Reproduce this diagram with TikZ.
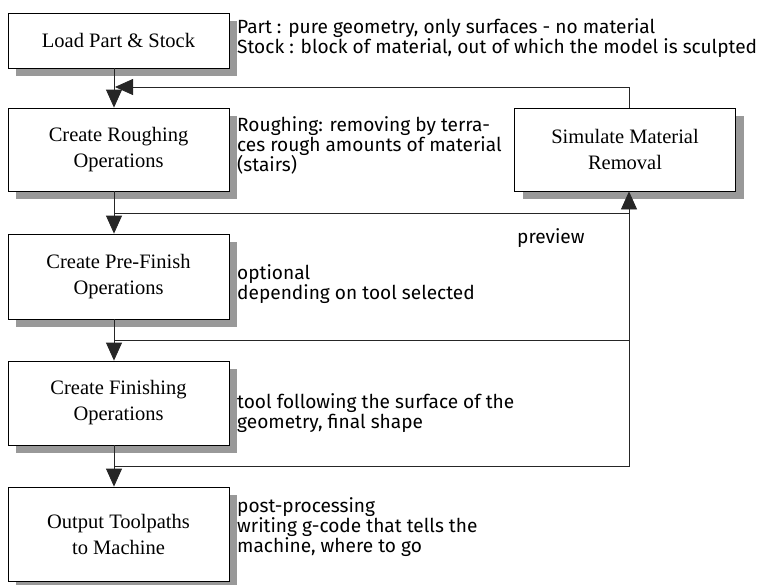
\documentclass[tikz,border=0pt]{standalone}
\usepackage{fontspec}
\setmainfont{Liberation Serif}
\newfontfamily\notefont{Fira Sans}
\usetikzlibrary{arrows.meta,shadows}

\begin{document}
\begin{tikzpicture}[x=1pt,y=-1pt,
    stepbox/.style={draw,fill=white,line width=0.8pt,minimum width=221pt,align=center,
      font=\fontsize{20.5}{26}\selectfont,
      drop shadow={shadow xshift=8pt,shadow yshift=-8pt,fill=black!40,opacity=1}},
    note/.style={anchor=north west,align=left,inner sep=0pt,font=\notefont\fontsize{19.1}{20.3}\selectfont},
    line/.style={draw=black!85,line width=0.8pt},
    arr/.style={-{Triangle[length=18pt,width=16pt]}}]
    \useasboundingbox (0,0) rectangle (762,584);

    % process steps
    \node[stepbox,minimum height=55pt] (load) at (118.5,40.5) {Load Part \& Stock};
    \node[stepbox,minimum height=83pt] (rough) at (118.5,149.5) {Create Roughing\\Operations};
    \node[stepbox,minimum height=85pt] (pre) at (118.5,276.5) {Create Pre-Finish\\Operations};
    \node[stepbox,minimum height=84pt] (fin) at (118.5,403) {Create Finishing\\Operations};
    \node[stepbox,minimum height=94pt] (out) at (118.5,534) {Output Toolpaths\\to Machine};
    \node[stepbox,minimum height=83pt] (sim) at (625,149.5) {Simulate Material\\Removal};

    % notes
    \node[note] (partnote) at (237,18) {Part : pure geometry, only surfaces - no material\\Stock : block of material, out of which the model is sculpted};
    \node[note] (roughnote) at (237,116) {Roughing: removing by terra-\\ces rough amounts of material\\(stairs)};
    \node[note] (prenote) at (237,264) {optional\\depending on tool selected};
    \node[note] (finnote) at (237,393) {tool following the surface of the\\geometry, final shape};
    \node[note] (postnote) at (237,497) {post-processing\\writing g-code that tells the\\machine, where to go};
    \node[note] (preview) at (517,228) {preview};

    % connectors
    \coordinate (spine) at (114,0);
    \coordinate (back) at (629,0);
    \coordinate (fbtip) at (115,87);
    \coordinate (j1) at (114,213);
    \coordinate (j2) at (114,340);
    \coordinate (j3) at (114,466);

    \draw[line,arr] (load.south -| spine) -- (rough.north -| spine);
    \draw[line,arr] (rough.south -| spine) -- (pre.north -| spine);
    \draw[line,arr] (pre.south -| spine) -- (fin.north -| spine);
    \draw[line,arr] (fin.south -| spine) -- (out.north -| spine);
    \draw[line,arr] (sim.north -| back) |- (fbtip);
    \draw[line] (j1) -- (j1 -| back);
    \draw[line] (j2) -- (j2 -| back);
    \draw[line,arr] (j3) -- (j3 -| back) -- (sim.south -| back);
\end{tikzpicture}
\end{document}
